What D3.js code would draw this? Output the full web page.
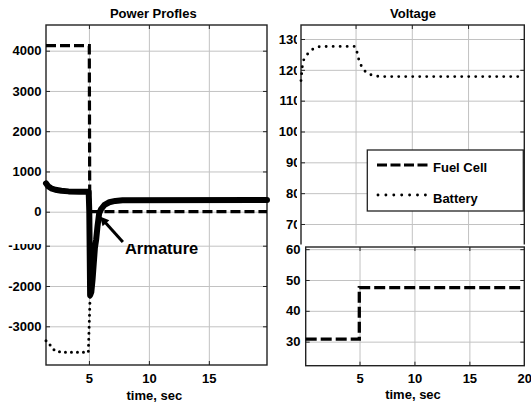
<!DOCTYPE html>
<html><head><meta charset="utf-8">
<script src="https://cdn.jsdelivr.net/npm/d3@7"></script>
<style>
body{margin:0;background:#fff;}
svg{display:block;}
</style></head><body>
<svg id="c" width="531" height="404"></svg>
<script>
// ---------- DATA ----------
// Left panel: power profiles (W) vs time (s)
const fuelCellPowerTime = [1.42, 5.03, 5.07, 19.85];
const fuelCellPower     = [4124, 4124, 0, 0];
const armatureTime  = [1.42, 1.6, 1.85, 2.2, 2.7, 3.3, 4.2, 4.98, 5.03, 5.1, 5.2, 5.3, 5.4, 5.5, 5.6, 5.72, 5.85, 6.0, 6.3, 6.7, 7.2, 7.8, 19.85];
const armaturePower = [705, 630, 580, 545, 520, 505, 497, 495, 0, -2230, -2150, -1850, -1450, -1050, -700, -350, -50, 60, 170, 235, 268, 285, 290];
const batteryPowerTime = [1.42, 1.81, 2.11, 2.6, 3.5, 4.95, 5.1, 5.2, 5.3, 5.4, 5.5, 5.6, 5.72, 5.85, 6.0, 6.3, 6.7, 7.2, 7.8, 19.85];
const batteryPower     = [-3357, -3482, -3588, -3640, -3645, -3645, -2230, -2150, -1850, -1450, -1050, -700, -350, -50, 60, 170, 235, 268, 285, 290];
const powerTicks = [4000, 3000, 2000, 1000, 0, -1000, -2000, -3000];
const powerTimeTicks = [5, 10, 15];
const armatureLabel = "Armature";
const armatureArrowTip = [5.92, -119];
const armatureArrowTail = [7.83, -753];
const armatureTextPos = [8.0, -1194];

// Right top: battery voltage (V)
const batteryVoltageTime = [0.15, 0.27, 0.39, 0.75, 1.15, 1.69, 2.5, 4.95, 5.1, 5.31, 5.6, 5.99, 6.49, 7.2, 20];
const batteryVoltage     = [116.5, 121.2, 123.2, 125.2, 126.6, 127.5, 127.6, 127.6, 126.2, 123.0, 120.5, 119.0, 118.2, 117.8, 117.8];
const voltageTicks = [130, 120, 110, 100, 90, 80, 70];
const voltageTimeGrid = [5, 10, 15];

// Right bottom: fuel cell voltage (V)
const fuelCellVoltageTime = [0.1, 4.98, 4.98, 20];
const fuelCellVoltage     = [30.8, 30.8, 47.5, 47.5];
const fcVoltageTicks = [60, 50, 40, 30];
const fcTimeTicks = [5, 10, 15, 20];

const legendItems = ["Fuel Cell", "Battery"];
const titles = ["Power Profles", "Voltage"];
const xLabel = "time, sec";

// ---------- STYLE ----------
const FF = "'Liberation Sans', Arial, Helvetica, sans-serif";
const GRID = "#c2c2c2";
const BOX = "#222";
const svg = d3.select("#c").attr("font-family", FF).attr("font-weight", "bold").attr("font-size", 13);
const defs = svg.append("defs");
defs.append("clipPath").attr("id", "cutL")
  .call(c => { c.append("rect").attr("x", 0).attr("y", 0).attr("width", 531).attr("height", 236);
               c.append("rect").attr("x", 0).attr("y", 244).attr("width", 531).attr("height", 160); });
defs.append("clipPath").attr("id", "cutA")
  .append("rect").attr("x", 0).attr("y", 244).attr("width", 531).attr("height", 160);
defs.append("clipPath").attr("id", "cutV")
  .append("rect").attr("x", 270).attr("y", 0).attr("width", 27).attr("height", 404);

function fixAxis(g) {
  g.attr("font-family", FF).attr("font-size", 13).attr("font-weight", "bold");
  g.select(".domain").remove();
  g.selectAll(".tick text").attr("fill", "#000");
}
function gridLines(parent, x, y, xt, yt, b) {
  parent.append("g").attr("transform", `translate(${b.x0},0)`)
    .call(d3.axisLeft(y).tickValues(yt).tickSize(-(b.x1 - b.x0)).tickFormat(""))
    .call(g => { g.select(".domain").remove(); g.selectAll("line").attr("stroke", GRID).attr("stroke-width", 1); });
  parent.append("g").attr("transform", `translate(0,${b.y1})`)
    .call(d3.axisBottom(x).tickValues(xt).tickSize(-(b.y1 - b.y0)).tickFormat(""))
    .call(g => { g.select(".domain").remove(); g.selectAll("line").attr("stroke", GRID).attr("stroke-width", 1); });
}
function innerTicks(parent, x, y, xt, yt, b) {
  const st = g => { g.select(".domain").remove(); g.selectAll("line").attr("stroke", BOX).attr("stroke-width", 1); };
  parent.append("g").attr("transform", `translate(${b.x0},0)`).call(d3.axisLeft(y).tickValues(yt).tickSize(-4).tickFormat("")).call(st);
  parent.append("g").attr("transform", `translate(${b.x1},0)`).call(d3.axisRight(y).tickValues(yt).tickSize(-4).tickFormat("")).call(st);
  parent.append("g").attr("transform", `translate(0,${b.y1})`).call(d3.axisBottom(x).tickValues(xt).tickSize(-4).tickFormat("")).call(st);
  parent.append("g").attr("transform", `translate(0,${b.y0})`).call(d3.axisTop(x).tickValues(xt).tickSize(-4).tickFormat("")).call(st);
}
function boxRect(parent, b) {
  parent.append("rect").attr("x", b.x0).attr("y", b.y0).attr("width", b.x1 - b.x0).attr("height", b.y1 - b.y0)
    .attr("fill", "none").attr("stroke", BOX).attr("stroke-width", 1.4);
}
const lineOf = (x, y) => d3.line().x(d => x(d[0])).y(d => y(d[1]));

// ---------- LEFT PANEL ----------
const L = {x0: 46, x1: 267, y0: 25, y1: 365};
const xP = d3.scaleLinear().domain([1.42, 19.85]).range([L.x0, L.x1]);
const yP = d3.scaleLinear().domain([-3960, -958, -802, 4638]).range([L.y1, 244, 244, L.y0]);
const gl = svg.append("g");
gridLines(gl, xP, yP, powerTimeTicks, powerTicks, L);
innerTicks(gl, xP, yP, powerTimeTicks, powerTicks, L);
gl.append("g").attr("clip-path", "url(#cutL)").append("g").attr("transform", `translate(${L.x0},0)`)
  .call(d3.axisLeft(yP).tickValues(powerTicks).tickSize(0).tickPadding(4.5).tickFormat(d => String(d)))
  .call(fixAxis);
gl.append("g").attr("transform", `translate(0,${L.y1})`)
  .call(d3.axisBottom(xP).tickValues(powerTimeTicks).tickSize(0).tickPadding(8.5).tickFormat(d => String(d)))
  .call(fixAxis);
boxRect(gl, L);

gl.append("path").datum(d3.zip(batteryPowerTime, batteryPower)).attr("d", lineOf(xP, yP))
  .attr("fill", "none").attr("stroke", "#000").attr("stroke-width", 3)
  .attr("stroke-linecap", "round").attr("stroke-dasharray", "0,6");
gl.append("path").datum(d3.zip(fuelCellPowerTime, fuelCellPower)).attr("d", lineOf(xP, yP))
  .attr("fill", "none").attr("stroke", "#000").attr("stroke-width", 3.2)
  .attr("stroke-dasharray", "10,4");
gl.append("path").datum(d3.zip(armatureTime, armaturePower)).attr("d", lineOf(xP, yP))
  .attr("fill", "none").attr("stroke", "#000").attr("stroke-width", 6)
  .attr("stroke-linejoin", "round").attr("stroke-linecap", "round");

// annotation arrow
{
  const tx = xP(armatureArrowTip[0]), ty = yP(armatureArrowTip[1]);
  const sx = xP(armatureArrowTail[0]), sy = yP(armatureArrowTail[1]);
  const dx = tx - sx, dy = ty - sy, len = Math.hypot(dx, dy), ux = dx / len, uy = dy / len;
  const hl = 9, hw = 4.5;
  const bx = tx - ux * hl, by = ty - uy * hl;
  gl.append("line").attr("x1", sx).attr("y1", sy).attr("x2", bx + ux * 1).attr("y2", by + uy * 1)
    .attr("stroke", "#000").attr("stroke-width", 3);
  gl.append("path").attr("d", `M${tx},${ty}L${bx - uy * hw},${by + ux * hw}L${bx + uy * hw},${by - ux * hw}Z`).attr("fill", "#000");
  gl.append("text").attr("clip-path", "url(#cutA)")
    .attr("x", xP(armatureTextPos[0])).attr("y", yP(armatureTextPos[1]))
    .attr("font-size", 16.5).text(armatureLabel);
}
gl.append("text").attr("x", 153.3).attr("y", 17.5).attr("text-anchor", "middle").text(titles[0]);
gl.append("text").attr("x", 154.3).attr("y", 399.5).attr("text-anchor", "middle").text(xLabel);

// ---------- RIGHT TOP: battery voltage ----------
const RT = {x0: 301, x1: 524.3, y0: 25, y1: 260};
const xV = d3.scaleLinear().domain([0.15, 20]).range([RT.x0, RT.x1]);
const yV = d3.scaleLinear().domain([58.32, 134.54]).range([RT.y1, RT.y0]);
const gt = svg.append("g");
gridLines(gt, xV, yV, voltageTimeGrid, voltageTicks, RT);
innerTicks(gt, xV, yV, voltageTimeGrid, voltageTicks, RT);
gt.append("g").attr("clip-path", "url(#cutV)").append("g").attr("transform", `translate(${RT.x0},0)`)
  .call(d3.axisLeft(yV).tickValues(voltageTicks).tickSize(0).tickPadding(0.5).tickFormat(d => String(d)))
  .call(fixAxis);
boxRect(gt, RT);
gt.append("path").datum(d3.zip(batteryVoltageTime, batteryVoltage)).attr("d", lineOf(xV, yV))
  .attr("fill", "none").attr("stroke", "#000").attr("stroke-width", 2.9)
  .attr("stroke-linecap", "round").attr("stroke-dasharray", "0,7");
// legend
{
  const lg = gt.append("g");
  lg.append("rect").attr("x", 367.3).attr("y", 150).attr("width", 156).attr("height", 61)
    .attr("fill", "#fff").attr("stroke", BOX).attr("stroke-width", 1.3);
  lg.append("line").attr("x1", 377).attr("x2", 428).attr("y1", 165).attr("y2", 165)
    .attr("stroke", "#000").attr("stroke-width", 3.2).attr("stroke-dasharray", "10,3.5");
  lg.append("line").attr("x1", 378).attr("x2", 428).attr("y1", 195).attr("y2", 195)
    .attr("stroke", "#000").attr("stroke-width", 2.9).attr("stroke-linecap", "round").attr("stroke-dasharray", "0,7.9");
  lg.append("text").attr("x", 433).attr("y", 172).text(legendItems[0]);
  lg.append("text").attr("x", 433).attr("y", 202.5).text(legendItems[1]);
}
gt.append("text").attr("x", 413).attr("y", 17.5).attr("text-anchor", "middle").text(titles[1]);

// overlay (pasted lower plot)
svg.append("rect").attr("x", 270).attr("y", 244.5).attr("width", 261).attr("height", 160).attr("fill", "#fff");

// ---------- RIGHT BOTTOM: fuel cell voltage ----------
const RB = {x0: 305.7, x1: 524.3, y0: 247, y1: 365.7};
const xF = d3.scaleLinear().domain([0.1, 20]).range([RB.x0, RB.x1]);
const yF = d3.scaleLinear().domain([22.2, 60.7]).range([RB.y1, RB.y0]);
const gb = svg.append("g");
gridLines(gb, xF, yF, [5, 10, 15], fcVoltageTicks, RB);
innerTicks(gb, xF, yF, [5, 10, 15], fcVoltageTicks, RB);
gb.append("g").attr("transform", `translate(${RB.x0},0)`)
  .call(d3.axisLeft(yF).tickValues(fcVoltageTicks).tickSize(0).tickPadding(5.2).tickFormat(d => String(d)))
  .call(fixAxis);
gb.append("g").attr("transform", `translate(0,${RB.y1})`)
  .call(d3.axisBottom(xF).tickValues(fcTimeTicks).tickSize(0).tickPadding(7.8).tickFormat(d => String(d)))
  .call(fixAxis);
boxRect(gb, RB);
gb.append("path").datum(d3.zip(fuelCellVoltageTime, fuelCellVoltage)).attr("d", lineOf(xF, yF))
  .attr("fill", "none").attr("stroke", "#000").attr("stroke-width", 3.3)
  .attr("stroke-dasharray", "11,4");
gb.append("text").attr("x", 413).attr("y", 399).attr("text-anchor", "middle").text(xLabel);
</script>
</body></html>
